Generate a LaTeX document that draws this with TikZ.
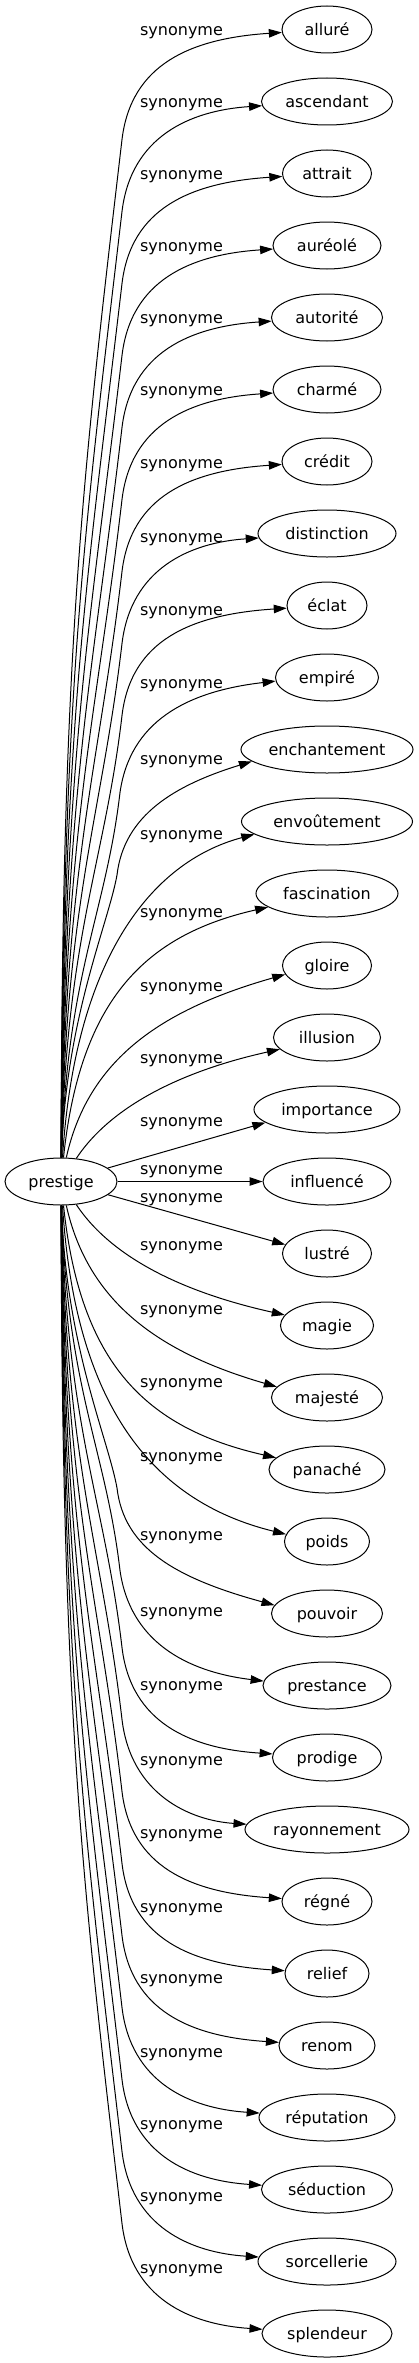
\documentclass[tikz,border=0pt]{standalone}
\usepackage{fontspec}
\setmainfont{DejaVu Sans}
\usetikzlibrary{arrows.meta,shapes.geometric}
\tikzstyle{word} = [draw, ellipse, minimum height=47pt, inner sep=2pt,
    text height=12pt, text depth=0.4pt]
\tikzstyle{rel} = [inner sep=0pt, text height=12pt, text depth=0.4pt]

\begin{document}
\begin{tikzpicture}[x=1pt, y=-1pt, node distance=72pt, line width=1pt,
    >={Triangle[length=13pt,width=8.5pt]}, font=\fontsize{16}{19}\selectfont]
    \useasboundingbox (0,0) rectangle (419,2363);
    \node [word, minimum width=112pt] (prestige) at (61,1181.5) {prestige};
    \node [word, minimum width=90pt] (allure) at (327,29.5) {alluré};
    \node [word, minimum width=131pt, below of=allure] (ascendant) {ascendant};
    \node [word, minimum width=89pt, below of=ascendant] (attrait) {attrait};
    \node [word, minimum width=108pt, below of=attrait] (aureole) {auréolé};
    \node [word, minimum width=111pt, below of=aureole] (autorite) {autorité};
    \node [word, minimum width=108pt, below of=autorite] (charme) {charmé};
    \node [word, minimum width=90pt, below of=charme] (credit) {crédit};
    \node [word, minimum width=138pt, below of=credit] (distinction) {distinction};
    \node [word, minimum width=80pt, below of=distinction] (eclat) {éclat};
    \node [word, minimum width=103pt, below of=eclat] (empire) {empiré};
    \node [word, minimum width=172pt, below of=empire] (enchantement) {enchantement};
    \node [word, minimum width=171pt, below of=enchantement] (envoutement) {envoûtement};
    \node [word, minimum width=142pt, below of=envoutement] (fascination) {fascination};
    \node [word, minimum width=89pt, below of=fascination] (gloire) {gloire};
    \node [word, minimum width=107pt, below of=gloire] (illusion) {illusion};
    \node [word, minimum width=146pt, below of=illusion] (importance) {importance};
    \node [word, minimum width=128pt, below of=importance] (influence) {influencé};
    \node [word, minimum width=89pt, below of=influence] (lustre) {lustré};
    \node [word, minimum width=93pt, below of=lustre] (magie) {magie};
    \node [word, minimum width=111pt, below of=magie] (majeste) {majesté};
    \node [word, minimum width=116pt, below of=majeste] (panache) {panaché};
    \node [word, minimum width=85pt, below of=panache] (poids) {poids};
    \node [word, minimum width=111pt, below of=poids] (pouvoir) {pouvoir};
    \node [word, minimum width=128pt, below of=pouvoir] (prestance) {prestance};
    \node [word, minimum width=109pt, below of=prestance] (prodige) {prodige};
    \node [word, minimum width=164pt, below of=prodige] (rayonnement) {rayonnement};
    \node [word, minimum width=90pt, below of=rayonnement] (regne) {régné};
    \node [word, minimum width=84pt, below of=regne] (relief) {relief};
    \node [word, minimum width=96pt, below of=relief] (renom) {renom};
    \node [word, minimum width=136pt, below of=renom] (reputation) {réputation};
    \node [word, minimum width=131pt, below of=reputation] (seduction) {séduction};
    \node [word, minimum width=138pt, below of=seduction] (sorcellerie) {sorcellerie};
    \node [word, minimum width=130pt, below of=sorcellerie] (splendeur) {splendeur};
    % edge labels
    \node [rel] (s-allure) at (181.5,29.5) {synonyme};
    \node [rel] (s-ascendant) at (181.5,101.5) {synonyme};
    \node [rel] (s-attrait) at (181.5,173.5) {synonyme};
    \node [rel] (s-aureole) at (181.5,245.5) {synonyme};
    \node [rel] (s-autorite) at (181.5,317.5) {synonyme};
    \node [rel] (s-charme) at (181.5,389.5) {synonyme};
    \node [rel] (s-credit) at (181.5,463) {synonyme};
    \node [rel] (s-distinction) at (181.5,537) {synonyme};
    \node [rel] (s-eclat) at (181.5,610) {synonyme};
    \node [rel] (s-empire) at (181.5,683) {synonyme};
    \node [rel] (s-enchantement) at (181.5,759) {synonyme};
    \node [rel] (s-envoutement) at (181.5,834) {synonyme};
    \node [rel] (s-fascination) at (181.5,912) {synonyme};
    \node [rel] (s-gloire) at (181.5,986) {synonyme};
    \node [rel] (s-illusion) at (181.5,1058) {synonyme};
    \node [rel] (s-importance) at (181.5,1121) {synonyme};
    \node [rel] (s-influence) at (181.5,1169) {synonyme};
    \node [rel] (s-lustre) at (181.5,1197) {synonyme};
    \node [rel] (s-magie) at (181.5,1245) {synonyme};
    \node [rel] (s-majeste) at (181.5,1309) {synonyme};
    \node [rel] (s-panache) at (181.5,1382) {synonyme};
    \node [rel] (s-poids) at (181.5,1456) {synonyme};
    \node [rel] (s-pouvoir) at (181.5,1535) {synonyme};
    \node [rel] (s-prestance) at (181.5,1611) {synonyme};
    \node [rel] (s-prodige) at (181.5,1685) {synonyme};
    \node [rel] (s-rayonnement) at (181.5,1760) {synonyme};
    \node [rel] (s-regne) at (181.5,1833) {synonyme};
    \node [rel] (s-relief) at (181.5,1907) {synonyme};
    \node [rel] (s-renom) at (181.5,1978) {synonyme};
    \node [rel] (s-reputation) at (181.5,2052) {synonyme};
    \node [rel] (s-seduction) at (181.5,2124) {synonyme};
    \node [rel] (s-sorcellerie) at (181.5,2196) {synonyme};
    \node [rel] (s-splendeur) at (181.5,2268) {synonyme};
    % upper edges
    \draw [->] (prestige) .. controls (62,648.25) and (82.3,478.7) .. (122,139.5) .. controls (131,64.5) and (190,38.5) .. (allure);
    \draw [->] (prestige) .. controls (62.5,684.25) and (85.1,526.7) .. (122,211.5) .. controls (131,136.5) and (190,110.5) .. (ascendant);
    \draw [->] (prestige) .. controls (63,720.25) and (87.9,574.7) .. (122,283.5) .. controls (131,208.5) and (190,182.5) .. (attrait);
    \draw [->] (prestige) .. controls (63.5,756.25) and (90.7,622.7) .. (122,355.5) .. controls (131,280.5) and (190,254.5) .. (aureole);
    \draw [->] (prestige) .. controls (64,792.25) and (93.6,670.7) .. (122,427.5) .. controls (131,352.5) and (190,326.5) .. (autorite);
    \draw [->] (prestige) .. controls (64.5,828.25) and (96.4,718.7) .. (122,499.5) .. controls (131,424.5) and (190,398.5) .. (charme);
    \draw [->] (prestige) .. controls (65,864.25) and (99.2,766.7) .. (122,571.5) .. controls (131,496.5) and (190,470.5) .. (credit);
    \draw [->] (prestige) .. controls (65.5,900.25) and (102,814.7) .. (122,643.5) .. controls (131,568.5) and (190,542.5) .. (distinction);
    \draw [->] (prestige) .. controls (66,936.25) and (104.8,862.7) .. (122,715.5) .. controls (131,640.5) and (190,614.5) .. (eclat);
    \draw [->] (prestige) .. controls (66.5,975) and (105.8,914) .. (120,792.5) .. controls (130,722.5) and (185,691.5) .. (empire.184);
    \draw [->] (prestige) .. controls (65,1020) and (108,925) .. (117,875) .. controls (124,815) and (175,785) .. (enchantement.189);
    \draw [->] (prestige) .. controls (75,960) and (150,862) .. (envoutement.190);
    \draw [->] (prestige) .. controls (80,1000) and (145,935) .. (fascination.193);
    \draw [->] (prestige) .. controls (88,1060) and (160,1010) .. (gloire.192);
    \draw [->] (prestige) .. controls (115,1100) and (195,1068) .. (illusion.194);
    \draw [->] (prestige) -- (importance.192);
    \draw [->] (prestige) -- (influence);
    % lower edges
    \draw [->] (prestige) -- (lustre.168);
    \draw [->] (prestige) .. controls (115,1263) and (195,1295) .. (magie.166);
    \draw [->] (prestige) .. controls (88,1303) and (160,1353) .. (majeste.168);
    \draw [->] (prestige) .. controls (80,1363) and (145,1428) .. (panache.167);
    \draw [->] (prestige) .. controls (75,1403) and (150,1501) .. (poids.170);
    \draw [->] (prestige) .. controls (65,1343) and (108,1438) .. (117,1488) .. controls (124,1548) and (175,1578) .. (pouvoir.171);
    \draw [->] (prestige) .. controls (66.5,1388) and (105.8,1449) .. (120,1570.5) .. controls (130,1640.5) and (185,1671.5) .. (prestance.176);
    \draw [->] (prestige) .. controls (66,1426.75) and (104.8,1500.3) .. (122,1647.5) .. controls (131,1722.5) and (190,1748.5) .. (prodige);
    \draw [->] (prestige) .. controls (65.5,1462.75) and (102,1548.3) .. (122,1719.5) .. controls (131,1794.5) and (190,1820.5) .. (rayonnement);
    \draw [->] (prestige) .. controls (65,1498.75) and (99.2,1596.3) .. (122,1791.5) .. controls (131,1866.5) and (190,1892.5) .. (regne);
    \draw [->] (prestige) .. controls (64.5,1534.75) and (96.4,1644.3) .. (122,1863.5) .. controls (131,1938.5) and (190,1964.5) .. (relief);
    \draw [->] (prestige) .. controls (64,1570.75) and (93.6,1692.3) .. (122,1935.5) .. controls (131,2010.5) and (190,2036.5) .. (renom);
    \draw [->] (prestige) .. controls (63.5,1606.75) and (90.7,1740.3) .. (122,2007.5) .. controls (131,2082.5) and (190,2108.5) .. (reputation);
    \draw [->] (prestige) .. controls (63,1642.75) and (87.9,1788.3) .. (122,2079.5) .. controls (131,2154.5) and (190,2180.5) .. (seduction);
    \draw [->] (prestige) .. controls (62.5,1678.75) and (85.1,1836.3) .. (122,2151.5) .. controls (131,2226.5) and (190,2252.5) .. (sorcellerie);
    \draw [->] (prestige) .. controls (62,1714.75) and (82.3,1884.3) .. (122,2223.5) .. controls (131,2298.5) and (190,2324.5) .. (splendeur);
\end{tikzpicture}
\end{document}
